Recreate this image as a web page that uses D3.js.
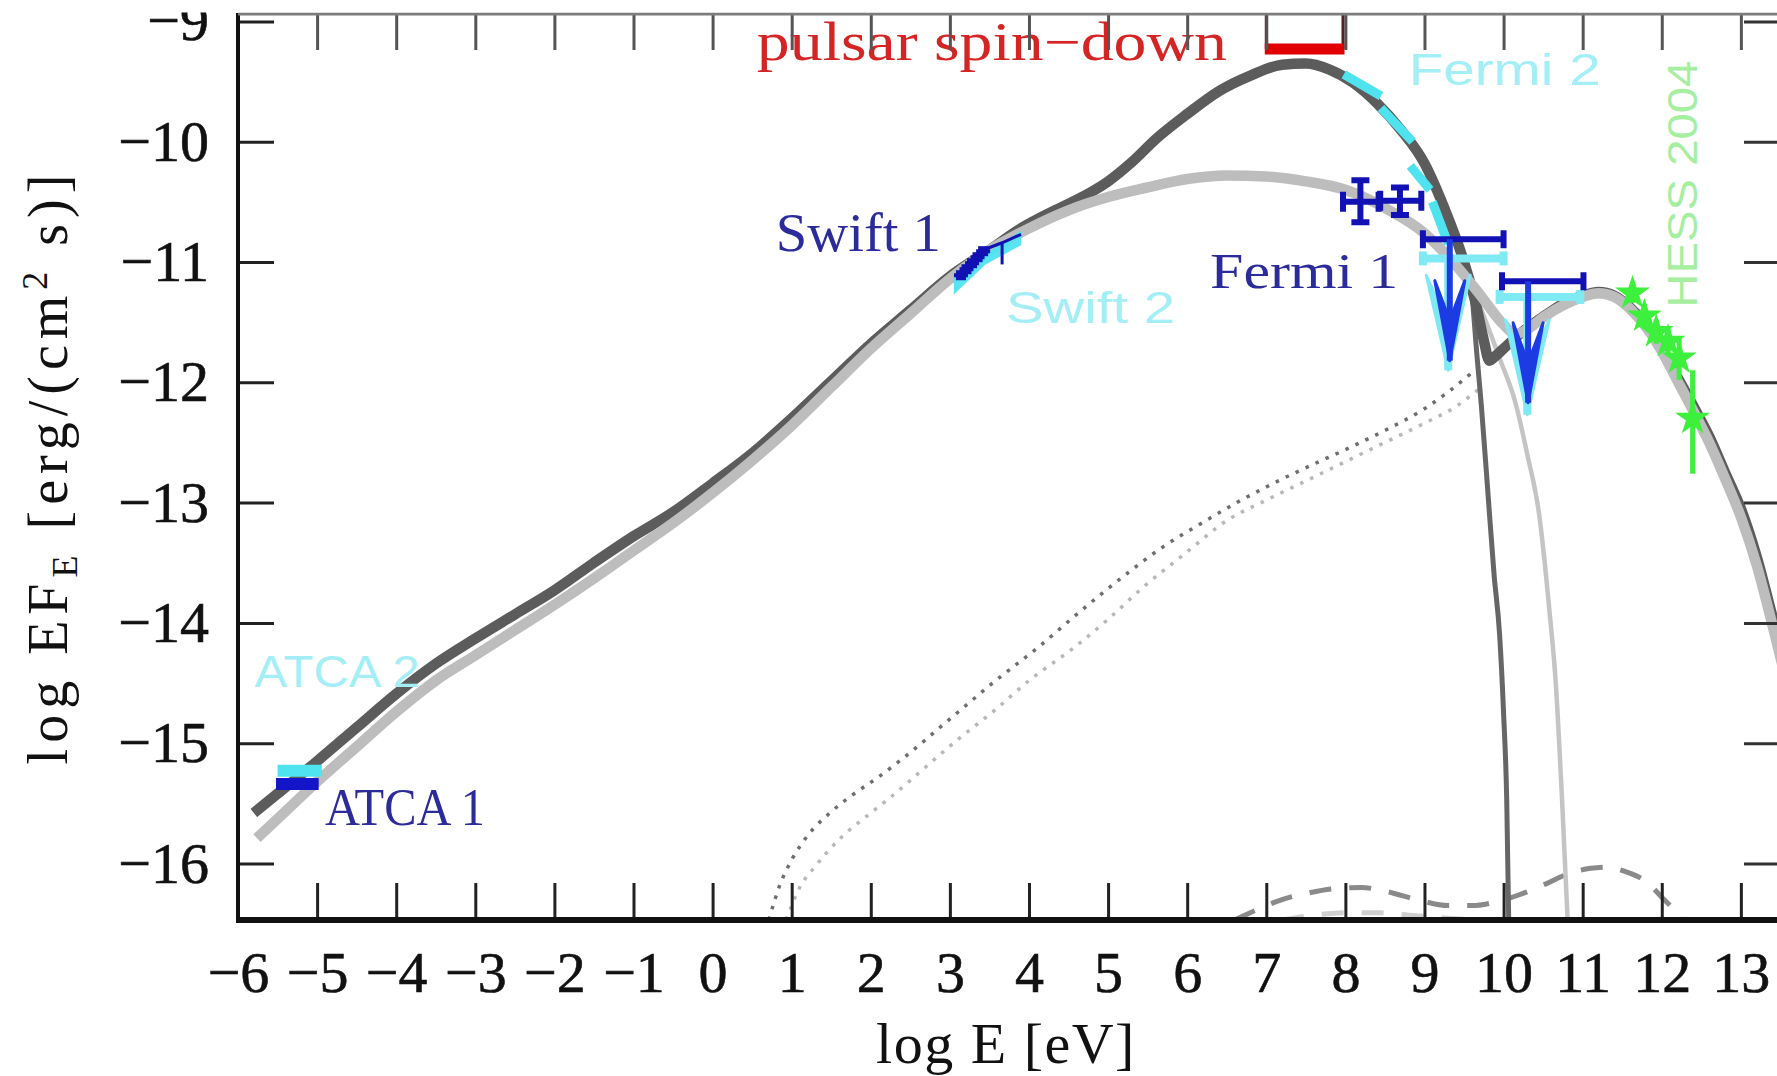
<!DOCTYPE html>
<html>
<head>
<meta charset="utf-8">
<title>Broadband SED</title>
<script src="https://cdn.jsdelivr.net/npm/d3@7"></script>
<style>
  html, body { margin: 0; padding: 0; background: #ffffff; }
  svg { display: block; }
</style>
</head>
<body>
<svg id="chart" width="1777" height="1076"></svg>
<script>
// ---------------- axis ticks ----------------
const xTickValues = [-6, -5, -4, -3, -2, -1, 0, 1, 2, 3, 4, 5, 6, 7, 8, 9, 10, 11, 12, 13];
const yTickValues = [-16, -15, -14, -13, -12, -11, -10, -9];

// ---------------- model A (dark grey): total emission ----------------
const totalA_logE = [-5.8, -5.5, -5.0, -4.5, -4.0, -3.5, -3.0, -2.5, -2.0, -1.5, -1.0, -0.5, 0.0, 0.5, 1.0,
  1.5, 2.0, 2.5, 3.0, 3.5, 3.9, 4.3, 4.7, 5.0, 5.3, 5.6, 6.0, 6.4, 6.8, 7.2, 7.5, 7.8, 8.1, 8.4, 8.7,
  9.0, 9.25, 9.5, 9.65, 9.75, 9.82, 9.9, 10.0, 10.2, 10.4, 10.6, 10.8, 11.0, 11.2, 11.4, 11.6, 11.8,
  12.0, 12.2, 12.4, 12.6, 12.8, 13.0, 13.2, 13.4, 13.6];
const totalA_logF = [-15.58, -15.42, -15.15, -14.87, -14.59, -14.34, -14.13, -13.93, -13.73, -13.5, -13.28, -13.08, -12.84, -12.59, -12.3,
  -11.99, -11.68, -11.4, -11.12, -10.9, -10.72, -10.58, -10.45, -10.33, -10.17, -9.98, -9.77, -9.58, -9.45, -9.36, -9.35, -9.40, -9.51, -9.68, -9.90,
  -10.18, -10.55, -11.0, -11.35, -11.65, -11.82, -11.78, -11.72, -11.6, -11.5, -11.41, -11.33, -11.28, -11.25, -11.28, -11.38, -11.52,
  -11.72, -11.96, -12.2, -12.45, -12.75, -13.05, -13.45, -13.95, -14.45];

// model A synchrotron tail beyond the cut-off
const synchA_logE = [9.6, 9.66, 9.72, 9.8, 9.88, 9.95, 10.0, 10.04, 10.065];
const synchA_logF = [-11.25, -11.75, -12.2, -12.9, -13.6, -14.1, -14.75, -15.48, -16.47];

// model A inverse Compton component
const icA_logE = [0.71, 0.85, 1.0, 1.2, 1.5, 1.77, 2.1, 2.4, 2.98, 3.56, 4.14, 4.62, 5.2, 5.69, 6.16, 6.6, 7.09, 7.6, 8.0, 8.5, 9.0, 9.3, 9.6];
const icA_logF = [-16.47, -16.18, -15.97, -15.77, -15.57, -15.43, -15.28, -15.13, -14.81, -14.49, -14.19, -13.92, -13.61, -13.37, -13.18, -13.01, -12.84, -12.68, -12.56, -12.4, -12.22, -12.08, -11.92];

// ---------------- model B (light grey): total emission ----------------
const totalB_logE = [-5.76, -5.5, -5.0, -4.5, -4.0, -3.5, -3.0, -2.5, -2.0, -1.5, -1.0, -0.5, 0.0, 0.5, 1.0,
  1.5, 2.0, 2.5, 3.0, 3.5, 4.0, 4.5, 5.0, 5.5, 6.0, 6.5, 7.0, 7.5, 8.0, 8.5, 9.0, 9.4, 9.7, 10.0, 10.15,
  10.3, 10.5, 10.75, 11.0, 11.2, 11.4, 11.6, 11.8, 12.0, 12.2, 12.4, 12.6, 12.8, 13.0, 13.2, 13.4, 13.6];
const totalB_logF = [-15.79, -15.63, -15.32, -15.03, -14.74, -14.48, -14.27, -14.06, -13.85, -13.63, -13.4, -13.17, -12.92, -12.65, -12.36,
  -12.04, -11.72, -11.43, -11.14, -10.9, -10.72, -10.57, -10.46, -10.38, -10.31, -10.28, -10.29, -10.33, -10.40, -10.55, -10.76, -11.03, -11.27, -11.52, -11.6,
  -11.56, -11.46, -11.36, -11.29, -11.26, -11.29, -11.39, -11.54, -11.74, -11.99, -12.24, -12.5, -12.8, -13.12, -13.52, -14.02, -14.55];

// model B synchrotron tail beyond the cut-off
const synchB_logE = [9.55, 9.75, 9.95, 10.15, 10.3, 10.45, 10.58, 10.66, 10.74, 10.81];
const synchB_logF = [-11.12, -11.45, -11.8, -12.17, -12.6, -13.1, -13.9, -14.5, -15.48, -16.47];

// model B inverse Compton component
const icB_logE = [0.93, 1.1, 1.29, 1.6, 2.0, 2.25, 2.69, 3.1, 3.56, 4.0, 4.58, 5.0, 5.45, 5.98, 6.5, 7.0, 7.5, 8.0, 8.5, 9.0, 9.4, 9.7];
const icB_logF = [-16.47, -16.2, -16.03, -15.8, -15.58, -15.45, -15.2, -14.97, -14.73, -14.48, -14.2, -13.97, -13.7, -13.42, -13.15, -12.98, -12.82, -12.66, -12.5, -12.34, -12.2, -12.05];

// faint extra components near the floor of the plot
const extraA_logE = [6.6, 6.9, 7.2, 7.5, 7.85, 8.2, 8.5, 8.9, 9.3, 9.6, 9.9, 10.2, 10.5, 10.8, 11.1, 11.3, 11.55, 11.8, 12.0, 12.15, 12.28];
const extraA_logF = [-16.47, -16.38, -16.3, -16.25, -16.21, -16.2, -16.23, -16.3, -16.35, -16.35, -16.32, -16.26, -16.18, -16.09, -16.04, -16.03, -16.07, -16.15, -16.28, -16.38, -16.47];
const extraB_logE = [7.2, 7.6, 8.0, 8.4, 8.8, 9.2, 9.6];
const extraB_logF = [-16.47, -16.43, -16.41, -16.41, -16.43, -16.45, -16.47];

// ---------------- measurements ----------------
// ATCA radio fluxes (energy band shown as a bar)
const atca1_logE = [-5.25], atca1_lo = [-5.52], atca1_hi = [-4.98], atca1_logF = [-15.34];
const atca2_logE = [-5.22], atca2_lo = [-5.50], atca2_hi = [-4.94], atca2_logF = [-15.23];

// Swift X-ray spectrum
const swift1_logE = [3.14, 3.21, 3.28, 3.35, 3.42];
const swift1_logF = [-11.11, -11.06, -11.01, -10.96, -10.91];
const swift1Bow_logE = [3.42, 3.66, 3.9];
const swift1Bow_logF = [-10.9, -10.84, -10.77];
const swift2_logE = [3.05, 3.45, 3.9];
const swift2_upper = [-11.1, -10.93, -10.74];
const swift2_lower = [-11.27, -11.02, -10.86];

// Fermi 1: detected points and upper limits
const fermi1_logE = [8.19, 8.69];
const fermi1_Elo = [7.97, 8.44];
const fermi1_Ehi = [8.42, 8.96];
const fermi1_logF = [-10.50, -10.49];
const fermi1_Flo = [-10.67, -10.61];
const fermi1_Fhi = [-10.32, -10.38];
const fermi1UL_logE = [9.32, 10.31];
const fermi1UL_Elo = [8.98, 9.98];
const fermi1UL_Ehi = [10.0, 11.01];
const fermi1UL_logF = [-10.81, -11.16];
const fermi1UL_tip = [-11.82, -12.17];

// Fermi 2: spectral segments and upper limits
const fermi2_Elo = [7.98, 8.45, 8.82, 9.1];
const fermi2_Ehi = [8.45, 8.85, 9.07, 9.3];
const fermi2_Fstart = [-9.44, -9.72, -10.2, -10.5];
const fermi2_Fend = [-9.62, -10.0, -10.4, -10.85];
const fermi2UL_logE = [9.3, 10.3];
const fermi2UL_Elo = [8.98, 9.95];
const fermi2UL_Ehi = [10.0, 10.97];
const fermi2UL_logF = [-10.97, -11.29];
const fermi2UL_tip = [-11.9, -12.27];

// HESS 2004 TeV points
const hess_logE = [11.63, 11.78, 11.93, 12.08, 12.22, 12.39];
const hess_logF = [-11.26, -11.45, -11.58, -11.66, -11.8, -12.3];
const hess_Flo = [-11.34, -11.55, -11.68, -11.78, -11.98, -12.76];
const hess_Fhi = [-11.18, -11.35, -11.48, -11.55, -11.62, -11.9];

// pulsar spin-down power (energy band and level)
const spinDown_logE = [7.0, 7.97];
const spinDown_logF = -9.23;

// ---------------- drawing ----------------
const svg = d3.select("#chart");
const W = 1777, H = 1076;

const x = d3.scaleLinear().domain([-6, 13.52]).range([238, 1782]);
const y = d3.scaleLinear().domain([-16.47, -8.93]).range([920, 13]);

const defs = svg.append("defs");
defs.append("clipPath").attr("id", "page")
  .append("rect").attr("x", 0).attr("y", 12.5).attr("width", W).attr("height", H);
defs.append("clipPath").attr("id", "plot")
  .append("rect").attr("x", x(-6)).attr("y", y(-8.93))
  .attr("width", x(13.52) - x(-6)).attr("height", y(-16.47) - y(-8.93));

const root = svg.append("g").attr("clip-path", "url(#page)");
root.append("rect").attr("width", W).attr("height", H).attr("fill", "#ffffff");

const plot = root.append("g").attr("clip-path", "url(#plot)");

const zip = (xs, ys) => xs.map((v, i) => [v, ys[i]]);
const line = d3.line().x(d => x(d[0])).y(d => y(d[1])).curve(d3.curveMonotoneX);

function curve(xs, ys, color, width, dash) {
  plot.append("path")
    .attr("d", line(zip(xs, ys)))
    .attr("fill", "none")
    .attr("stroke", color)
    .attr("stroke-width", width)
    .attr("stroke-dasharray", dash || null)
    .attr("stroke-linejoin", "round");
}

// components
curve(extraB_logE, extraB_logF, "#cfcfcf", 5, "22,18");
curve(extraA_logE, extraA_logF, "#8a8a8a", 5, "22,18");
curve(icB_logE, icB_logF, "#b8b8b8", 3.5, "3.5,7.5");
curve(icA_logE, icA_logF, "#6e6e6e", 3.5, "3.5,7.5");
curve(synchA_logE, synchA_logF, "#666666", 5);
curve(synchB_logE, synchB_logF, "#c4c4c4", 4.5);

// totals
curve(totalA_logE, totalA_logF, "#5c5c5c", 10.5);
curve(totalB_logE, totalB_logF, "#bdbdbd", 10.5);

// ---- data ----
const CYAN = "#4fe3f0", PALE_UL = "#7fe9f4", BLUE = "#1212b4", ARROW = "#1d3be2", GREEN = "#3cf03c";

function seg(g, x1, y1, x2, y2, color, w) {
  g.append("line").attr("x1", x1).attr("y1", y1).attr("x2", x2).attr("y2", y2)
    .attr("stroke", color).attr("stroke-width", w);
}

// ATCA
const dataG = plot.append("g");
atca2_logE.forEach((e, i) => seg(dataG, x(atca2_lo[i]), y(atca2_logF[i]), x(atca2_hi[i]), y(atca2_logF[i]), CYAN, 12));
atca1_logE.forEach((e, i) => seg(dataG, x(atca1_lo[i]), y(atca1_logF[i]), x(atca1_hi[i]), y(atca1_logF[i]), "#1414c8", 12));

// Swift 2 (band)
dataG.append("path")
  .attr("d", d3.area().x(d => x(d[0])).y0(d => y(d[1])).y1(d => y(d[2])).curve(d3.curveLinear)(
    swift2_logE.map((e, i) => [e, swift2_lower[i], swift2_upper[i]])))
  .attr("fill", CYAN).attr("opacity", 0.95);
// Swift 1
dataG.append("path")
  .attr("d", d3.line().x(d => x(d[0])).y(d => y(d[1]))(zip(swift1Bow_logE, swift1Bow_logF)))
  .attr("fill", "none").attr("stroke", BLUE).attr("stroke-width", 3);
seg(dataG, x(swift1Bow_logE[1]), y(-10.84), x(swift1Bow_logE[1]), y(-11.02), BLUE, 3);
swift1_logE.forEach((e, i) => {
  const cx = x(e), cy = y(swift1_logF[i]);
  dataG.append("rect").attr("x", cx - 5).attr("y", cy - 5).attr("width", 10).attr("height", 10).attr("fill", BLUE);
  seg(dataG, cx - 7, cy, cx + 7, cy, BLUE, 4);
});

// upper limit helper
function upperLimit(g, e, lo, hi, f, tip, color, barColor, w, hw, hl, cap) {
  const cx = x(e), cy = y(f), ty = y(tip);
  seg(g, x(lo), cy, x(hi), cy, barColor, w);
  seg(g, x(lo), cy - cap, x(lo), cy + cap, barColor, w);
  seg(g, x(hi), cy - cap, x(hi), cy + cap, barColor, w);
  seg(g, cx, cy, cx, ty, color, w);
  g.append("path")
    .attr("d", `M${cx - hw},${ty - hl}L${cx},${ty}L${cx + hw},${ty - hl}L${cx},${ty - hl * 0.5}Z`)
    .attr("fill", color).attr("stroke", color).attr("stroke-width", 3)
    .attr("stroke-linejoin", "round");
}

// Fermi 2
fermi2_Elo.forEach((e, i) => seg(dataG, x(e), y(fermi2_Fstart[i]), x(fermi2_Ehi[i]), y(fermi2_Fend[i]), CYAN, 9));
fermi2UL_logE.forEach((e, i) => upperLimit(dataG, e, fermi2UL_Elo[i], fermi2UL_Ehi[i], fermi2UL_logF[i], fermi2UL_tip[i], PALE_UL, PALE_UL, 8, 22, 95, 7));

// Fermi 1
fermi1_logE.forEach((e, i) => {
  const cx = x(e), cy = y(fermi1_logF[i]);
  const xl = x(fermi1_Elo[i]), xh = x(fermi1_Ehi[i]);
  const yl = y(fermi1_Flo[i]), yh = y(fermi1_Fhi[i]);
  seg(dataG, xl, cy, xh, cy, BLUE, 6);
  seg(dataG, cx, yl, cx, yh, BLUE, 6);
  seg(dataG, xl, cy - 10, xl, cy + 10, BLUE, 6);
  seg(dataG, xh, cy - 10, xh, cy + 10, BLUE, 6);
  seg(dataG, cx - 9, yl, cx + 9, yl, BLUE, 6);
  seg(dataG, cx - 9, yh, cx + 9, yh, BLUE, 6);
});
fermi1UL_logE.forEach((e, i) => upperLimit(dataG, e, fermi1UL_Elo[i], fermi1UL_Ehi[i], fermi1UL_logF[i], fermi1UL_tip[i], ARROW, BLUE, 6, 15, 80, 9));

// HESS
hess_logE.forEach((e, i) => {
  const cx = x(e);
  seg(dataG, cx, y(hess_Flo[i]), cx, y(hess_Fhi[i]), GREEN, 5);
  dataG.append("path")
    .attr("transform", `translate(${cx},${y(hess_logF[i])})`)
    .attr("d", d3.symbol().type(d3.symbolStar).size(380)())
    .attr("fill", GREEN);
});

// pulsar spin-down band
const sdG = root.append("g");
seg(sdG, x(spinDown_logE[0]), y(-8.93), x(spinDown_logE[0]), y(spinDown_logF), "#5a2020", 3);
seg(sdG, x(spinDown_logE[1]), y(-8.93), x(spinDown_logE[1]), y(spinDown_logF), "#5a2020", 3);
seg(sdG, x(spinDown_logE[0]) - 1.5, y(spinDown_logF), x(spinDown_logE[1]) + 1.5, y(spinDown_logF), "#e00000", 11);

// ---- labels ----
const SERIF = "'Liberation Serif', 'DejaVu Serif', serif";
const SANS = "'Liberation Sans', Arimo, 'DejaVu Sans', sans-serif";
function label(text, e, f, color, family, size, length, rotate) {
  const t = root.append("text")
    .attr("font-family", family).attr("font-size", size)
    .attr("fill", color).attr("textLength", length).attr("lengthAdjust", "spacingAndGlyphs")
    .text(text);
  if (rotate) t.attr("transform", `translate(${x(e)},${y(f)}) rotate(-90)`);
  else t.attr("x", x(e)).attr("y", y(f));
}
const NAVY = "#2b2b9c", PALECYAN = "#a4eef5", PALEGREEN = "#a6eea0";
label("ATCA 2", -5.79, -14.53, PALECYAN, SANS, 44, 165);
label("ATCA 1", -4.9, -15.68, NAVY, SERIF, 52, 160);
label("Swift 1", 0.80, -10.91, NAVY, SERIF, 54, 165);
label("Swift 2", 3.71, -11.51, PALECYAN, SANS, 44, 169);
label("Fermi 1", 6.29, -11.22, NAVY, SERIF, 50, 188);
label("Fermi 2", 8.80, -9.53, PALECYAN, SANS, 44, 192);
label("HESS 2004", 12.45, -11.38, PALEGREEN, SANS, 42, 247, true);
label("pulsar spin\u2212down", 0.56, -9.32, "#d42424", SERIF, 54, 470);

// ---- axes ----
const fmt = d => (d < 0 ? "\u2212" + Math.abs(d) : String(d));
const axG = root.append("g");

const axBottom = axG.append("g").attr("transform", `translate(0,${y(-16.47)})`)
  .call(d3.axisBottom(x).tickValues(xTickValues).tickSizeInner(-37).tickSizeOuter(0).tickPadding(31).tickFormat(fmt));
const axLeft = axG.append("g").attr("transform", `translate(${x(-6)},0)`)
  .call(d3.axisLeft(y).tickValues(yTickValues).tickSizeInner(-36).tickSizeOuter(0).tickPadding(29).tickFormat(fmt));
const axTop = axG.append("g").attr("transform", `translate(0,${y(-8.93) + 1})`)
  .call(d3.axisTop(x).tickValues(xTickValues).tickSizeInner(-36).tickSizeOuter(0).tickFormat(""));
const axRight = axG.append("g").attr("transform", `translate(${x(13.52) - 2},0)`)
  .call(d3.axisRight(y).tickValues(yTickValues).tickSizeInner(-36).tickSizeOuter(0).tickFormat(""));

[axBottom, axLeft, axTop, axRight].forEach(g => g.select(".domain").remove());
axBottom.selectAll(".tick line").attr("stroke", "#222").attr("stroke-width", 3);
axLeft.selectAll(".tick line").attr("stroke", "#222").attr("stroke-width", 3);
axTop.selectAll(".tick line").attr("stroke", "#555").attr("stroke-width", 3);
axRight.selectAll(".tick line").attr("stroke", "#333").attr("stroke-width", 3);
[axBottom, axLeft].forEach(g => g.selectAll(".tick text")
  .attr("font-family", SERIF).attr("font-size", 58).attr("fill", "#111")
  .attr("stroke", "#111").attr("stroke-width", 0.6));

// frame lines
seg(axG, x(-6), y(-8.93), x(-6), y(-16.47) + 2, "#111", 4);
seg(axG, x(-6) - 2, y(-16.47), W, y(-16.47), "#111", 6);
seg(axG, x(-6), y(-8.93) + 1, W, y(-8.93) + 1, "#7c7c7c", 3);

// axis titles
root.append("text")
  .attr("x", (x(-6) + x(13.52)) / 2 - 4).attr("y", 1063)
  .attr("text-anchor", "middle")
  .attr("font-family", SERIF).attr("font-size", 58).attr("fill", "#111")
  .attr("letter-spacing", 1.5)
  .text("log E [eV]");

const yt = root.append("text")
  .attr("transform", `translate(67,${(y(-16.47) + y(-8.93)) / 2}) rotate(-90)`)
  .attr("text-anchor", "middle")
  .attr("font-family", SERIF).attr("font-size", 56).attr("fill", "#111")
  .attr("letter-spacing", 6);
yt.append("tspan").text("log EF");
yt.append("tspan").attr("font-size", 36).attr("dy", 10).text("E");
yt.append("tspan").attr("dy", -10).text(" [erg/(cm");
yt.append("tspan").attr("font-size", 36).attr("dy", -20).text("2");
yt.append("tspan").attr("dy", 20).text(" s)]");
</script>
</body>
</html>
